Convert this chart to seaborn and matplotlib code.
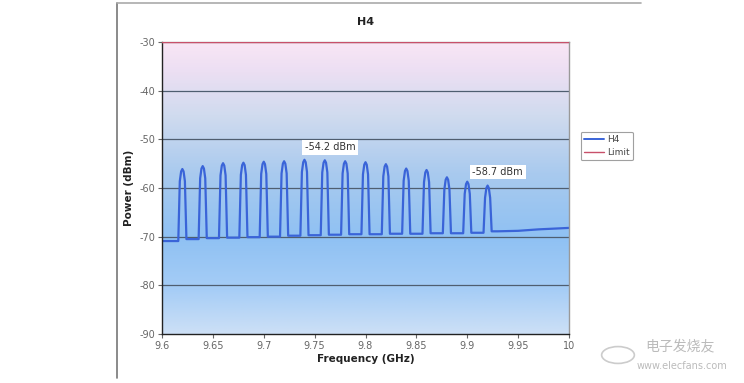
import numpy as np
import pandas as pd
import matplotlib
matplotlib.use("Agg")
import matplotlib.pyplot as plt
from matplotlib.colors import LinearSegmentedColormap
from matplotlib.lines import Line2D
import seaborn as sns

# peak centres (GHz) and peak levels (dBm)
peak_ghz = [9.62, 9.64, 9.66, 9.68, 9.70, 9.72, 9.74, 9.76,
            9.78, 9.80, 9.82, 9.84, 9.86, 9.88, 9.90, 9.92]
peak_dbm = [-56.1, -55.5, -54.9, -54.8, -54.6, -54.5, -54.2, -54.3,
            -54.5, -54.7, -55.1, -56.0, -56.3, -57.8, -58.7, -59.5]
# noise floor: left of first peak, gaps between peaks, then tail to 10 GHz
floor_left = -70.9
floor_gaps = [-70.5, -70.3, -70.2, -70.1, -70.0, -69.8, -69.7, -69.6,
              -69.5, -69.5, -69.4, -69.4, -69.3, -69.3, -69.2]
tail_ghz = [9.93, 9.95, 9.97, 10.0]
tail_dbm = [-68.9, -68.8, -68.5, -68.2]
limit_dbm = -30

# build the trace vertices (rounded-top peaks)
floors = [floor_left] + floor_gaps + [tail_dbm[0]]
fx, fy = [9.6], [floor_left]
for i, (f, p) in enumerate(zip(peak_ghz, peak_dbm)):
    lo, hi = floors[i], floors[i + 1]
    fx += [f - 0.0040, f - 0.0025, f - 0.0012, f, f + 0.0012, f + 0.0025, f + 0.0040]
    fy += [lo, p - 2.5, p - 0.5, p, p - 0.5, p - 2.5, hi]
fx += tail_ghz
fy += tail_dbm
trace = pd.DataFrame({"Frequency (GHz)": fx, "Power (dBm)": fy})

sns.set_theme(style="white")
plt.rcParams["font.family"] = ["DejaVu Sans", "Noto Sans CJK SC"]
plt.rcParams["axes.unicode_minus"] = False

fig = plt.figure(figsize=(7.44, 3.83), dpi=100)
ax = fig.add_axes([162 / 744, 49 / 383, 407 / 744, 292 / 383])

# background gradient (pink at the top going to blue)
bg = LinearSegmentedColormap.from_list("bg", [
    (0.0, "#cde0f6"), (0.15, "#a6cdf6"), (0.33, "#8fc1f3"),
    (0.55, "#a9caee"), (0.75, "#d0dbef"), (0.9, "#ecdff3"), (1.0, "#f9e6f5")])
ax.imshow(np.linspace(0, 1, 256).reshape(-1, 1), cmap=bg, aspect="auto",
          extent=[9.6, 10, -90, -30], origin="lower", zorder=0)

for y in [-40, -50, -60, -70, -80]:
    ax.axhline(y, color="#4f5e70", lw=0.9, zorder=1)
ax.axhline(limit_dbm, color="#c8506a", lw=1.0, zorder=3)

sns.lineplot(data=trace, x="Frequency (GHz)", y="Power (dBm)", sort=False,
             estimator=None, color="#3a64d8", lw=1.6, ax=ax, zorder=2)

ax.set_xlim(9.6, 10)
ax.set_ylim(-90, -30)
ax.set_xticks([9.6, 9.65, 9.7, 9.75, 9.8, 9.85, 9.9, 9.95, 10])
ax.set_xticklabels(["9.6", "9.65", "9.7", "9.75", "9.8", "9.85", "9.9", "9.95", "10"])
ax.set_yticks(range(-90, -29, 10))
ax.tick_params(axis="both", labelsize=7, colors="#666666", length=3, width=0.8,
               direction="out", bottom=True, left=True, pad=2)
ax.set_xlabel("Frequency (GHz)", fontsize=7.5, color="#222222", fontweight="bold", labelpad=2)
ax.set_ylabel("Power (dBm)", fontsize=7.5, color="#222222", fontweight="bold", labelpad=4)
ax.set_title("H4", fontsize=8, fontweight="bold", color="#222222", pad=12)

for s in ["left", "bottom"]:
    ax.spines[s].set_color("#222222")
    ax.spines[s].set_linewidth(1.0)
for s in ["top", "right"]:
    ax.spines[s].set_color("#999999")
    ax.spines[s].set_linewidth(1.0)

box = dict(boxstyle="square,pad=0.25", fc="white", ec="none")
ax.text(9.765, -51.6, "-54.2 dBm", fontsize=7, color="#333333", ha="center", va="center", bbox=box, zorder=4)
ax.text(9.93, -56.7, "-58.7 dBm", fontsize=7, color="#333333", ha="center", va="center", bbox=box, zorder=4)

handles = [Line2D([], [], color="#3a64d8", lw=1.4), Line2D([], [], color="#c8506a", lw=1.0)]
leg = fig.legend(handles, ["H4", "Limit"], loc="upper left", bbox_to_anchor=(576 / 744, 1 - 127 / 383),
                 fontsize=6.5, frameon=True, handlelength=2.2, handletextpad=0.3,
                 borderpad=0.4, labelspacing=0.4, fancybox=True)
leg.get_frame().set_edgecolor("#888888")
leg.get_frame().set_linewidth(0.8)
for t in leg.get_texts():
    t.set_color("#444444")

# outer chart frame (only left and top edges visible)
fig.add_artist(Line2D([117 / 744, 117 / 744], [1 - 378 / 383, 1 - 3 / 383], color="#777777", lw=1.2))
fig.add_artist(Line2D([117 / 744, 641 / 744], [1 - 3 / 383, 1 - 3 / 383], color="#aaaaaa", lw=1.2))

# watermark
fig.text(680 / 744, 1 - 346 / 383, "电子发烧友", fontsize=10, color="#bbbbbb",
         ha="center", va="center", family=["Noto Sans CJK SC", "DejaVu Sans"])
fig.text(682 / 744, 1 - 366 / 383, "www.elecfans.com", fontsize=7, color="#bbbbbb",
         ha="center", va="center")
fig.add_artist(matplotlib.patches.Circle((618 / 744, 1 - 355 / 383), 0.022, transform=fig.transFigure,
                                         fill=False, ec="#cccccc", lw=1.2))

fig.savefig("out.png", dpi=100)
